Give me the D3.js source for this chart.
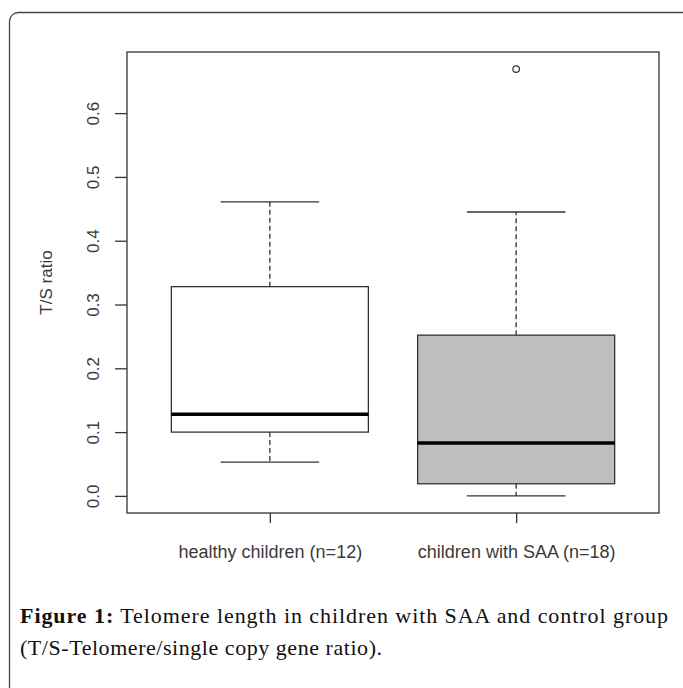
<!DOCTYPE html>
<html>
<head>
<meta charset="utf-8">
<script src="https://cdn.jsdelivr.net/npm/d3@7"></script>
<style>
  body { margin: 0; background: #fff; }
  svg { display: block; }
  .axis text { font-family: "Liberation Sans", Arial, sans-serif; font-size: 17px; fill: #3a3a3a; }
  .caption { font-family: "Liberation Serif", "DejaVu Serif", serif; font-size: 22px; fill: #111; }
</style>
</head>
<body>
<svg id="chart" width="683" height="688"></svg>
<script>
// data
var groups = ['healthy children (n=12)', 'children with SAA (n=18)'];
var whiskerLow = [0.053, 0.0];
var q1 = [0.100, 0.019];
var medians = [0.128, 0.083];
var q3 = [0.328, 0.252];
var whiskerHigh = [0.461, 0.445];
var outliers = [[], [0.669]];
var fills = ['#ffffff', '#bebebe'];
var yTicks = [0, 0.1, 0.2, 0.3, 0.4, 0.5, 0.6];

var svg = d3.select('#chart');
var lineColor = '#333';

// outer figure frame
svg.append('rect')
  .attr('x', 9.5).attr('y', 12.5)
  .attr('width', 690).attr('height', 700)
  .attr('rx', 9)
  .attr('fill', 'none')
  .attr('stroke', '#444')
  .attr('stroke-width', 1.3);

// plot region
var plotLeft = 127, plotRight = 659, plotTop = 52, plotBottom = 513;

// R style: index positions 1..n, range padded by 4%
var xScale = d3.scaleLinear()
  .domain([0.42, 2.58])
  .range([plotLeft, plotRight]);

var yScale = d3.scaleLinear()
  .domain([-0.0268, 0.6958])
  .range([plotBottom, plotTop]);

var boxHalf = 0.4, capHalf = 0.2;

// y axis
var yAxis = d3.axisLeft(yScale)
  .tickValues(yTicks)
  .tickSize(12)
  .tickFormat(d3.format('.1f'));

var yg = svg.append('g')
  .attr('class', 'axis')
  .attr('transform', 'translate(' + plotLeft + ',0)')
  .call(yAxis);
yg.select('.domain').remove();
yg.selectAll('line').attr('stroke', lineColor).attr('stroke-width', 1.3);
yg.selectAll('text')
  .attr('text-anchor', 'middle')
  .attr('x', null)
  .attr('transform', 'translate(-34,0) rotate(-90)')
  .attr('dy', '0.35em');

// x axis
var xAxis = d3.axisBottom(xScale)
  .tickValues([1, 2])
  .tickSize(10)
  .tickPadding(22)
  .tickFormat(function (d) { return groups[d - 1]; });

var xg = svg.append('g')
  .attr('class', 'axis')
  .attr('transform', 'translate(0,' + plotBottom + ')')
  .call(xAxis);
xg.select('.domain').remove();
xg.selectAll('line').attr('stroke', lineColor).attr('stroke-width', 1.3);
xg.selectAll('text').style('font-size', '18px');

// y label
svg.append('g').attr('class', 'axis')
  .append('text')
  .attr('transform', 'translate(46,' + ((plotTop + plotBottom) / 2) + ') rotate(-90)')
  .attr('text-anchor', 'middle')
  .attr('dy', '0.35em')
  .text('T/S ratio');

// boxes
var boxes = svg.append('g');
groups.forEach(function (g, i) {
  var c = xScale(i + 1);
  var bg = boxes.append('g');

  // whiskers (dashed)
  bg.append('line')
    .attr('x1', c).attr('x2', c)
    .attr('y1', yScale(q3[i])).attr('y2', yScale(whiskerHigh[i]))
    .attr('stroke', lineColor).attr('stroke-width', 1.3)
    .attr('stroke-dasharray', '5,3');
  bg.append('line')
    .attr('x1', c).attr('x2', c)
    .attr('y1', yScale(q1[i])).attr('y2', yScale(whiskerLow[i]))
    .attr('stroke', lineColor).attr('stroke-width', 1.3)
    .attr('stroke-dasharray', '5,3');

  // caps
  [whiskerLow[i], whiskerHigh[i]].forEach(function (v) {
    bg.append('line')
      .attr('x1', xScale(i + 1 - capHalf)).attr('x2', xScale(i + 1 + capHalf))
      .attr('y1', yScale(v)).attr('y2', yScale(v))
      .attr('stroke', lineColor).attr('stroke-width', 1.3);
  });

  // box
  bg.append('rect')
    .attr('x', xScale(i + 1 - boxHalf))
    .attr('y', yScale(q3[i]))
    .attr('width', xScale(i + 1 + boxHalf) - xScale(i + 1 - boxHalf))
    .attr('height', yScale(q1[i]) - yScale(q3[i]))
    .attr('fill', fills[i])
    .attr('stroke', lineColor).attr('stroke-width', 1.3);

  // median
  bg.append('line')
    .attr('x1', xScale(i + 1 - boxHalf)).attr('x2', xScale(i + 1 + boxHalf))
    .attr('y1', yScale(medians[i])).attr('y2', yScale(medians[i]))
    .attr('stroke', '#000').attr('stroke-width', 3.5);

  // outliers
  bg.selectAll('circle')
    .data(outliers[i])
    .enter()
    .append('circle')
    .attr('cx', c)
    .attr('cy', function (d) { return yScale(d); })
    .attr('r', 3.3)
    .attr('fill', 'none')
    .attr('stroke', lineColor).attr('stroke-width', 1.2);
});

// plot frame
svg.append('rect')
  .attr('x', plotLeft).attr('y', plotTop)
  .attr('width', plotRight - plotLeft).attr('height', plotBottom - plotTop)
  .attr('fill', 'none')
  .attr('stroke', lineColor).attr('stroke-width', 1.3);

// caption
var cap = svg.append('text').attr('class', 'caption')
  .attr('x', 20).attr('y', 623)
  .attr('textLength', 648).attr('lengthAdjust', 'spacing');
cap.append('tspan').attr('font-weight', 'bold').text('Figure 1:');
cap.append('tspan').text(' Telomere length in children with SAA and control group');
svg.append('text').attr('class', 'caption').attr('x', 20).attr('y', 655)
  .attr('textLength', 362).attr('lengthAdjust', 'spacing')
  .text('(T/S-Telomere/single copy gene ratio).');
</script>
</body>
</html>
